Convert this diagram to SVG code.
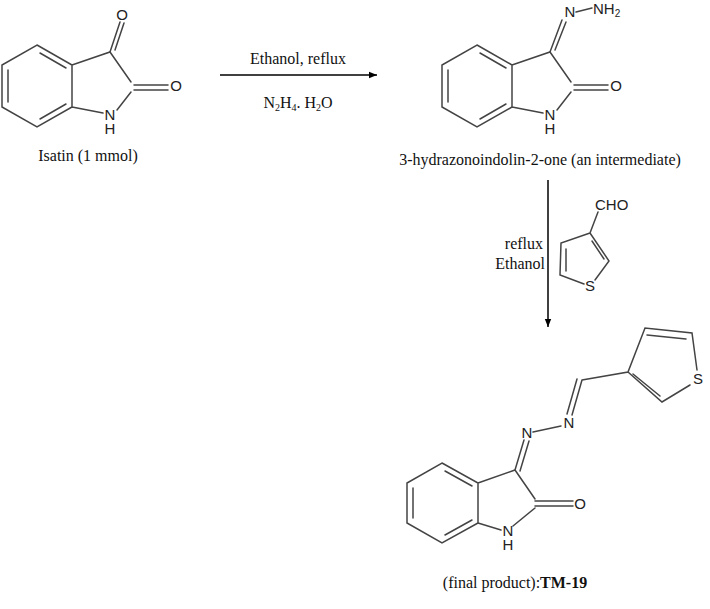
<svg xmlns="http://www.w3.org/2000/svg" width="710" height="609" viewBox="0 0 710 609">
<defs>
<style>
.b{fill:none;stroke:#444;stroke-width:1.5;stroke-linecap:round}
.a{font-family:"Liberation Sans",Arial,sans-serif;font-size:15px;fill:#222}
.t{font-family:"Liberation Serif","Times New Roman",serif;font-size:16px;fill:#111}
.ar{stroke:#000;stroke-width:1.5;fill:none}
</style>
<marker id="m" viewBox="0 0 10 10" refX="10" refY="5" markerWidth="8" markerHeight="8" orient="auto" markerUnits="userSpaceOnUse"><path d="M0,1 L10,5 L0,9 z" fill="#000"/></marker>
</defs>
<rect width="710" height="609" fill="#fff"/>
<g id="isatin">
<path class="b" d="M37,45 L72,65 L72,107 L37,127 L2,107 L2,65 Z M8,70 L8,102 M40,53 L66,68 M40,119 L66,104 M72,65 L110,52 L131,82 M72,107 L103,113 M117,110 L131,92"/>
<path class="b" d="M110,52 L120,22 M115,50 L124,23 M134,85 L168,85 M134,90 L168,90"/>
<text class="a" x="122" y="20" text-anchor="middle">O</text>
<text class="a" x="176" y="91" text-anchor="middle">O</text>
<text class="a" x="110" y="120" text-anchor="middle" font-size="13">N</text>
<text class="a" x="110" y="134" text-anchor="middle" font-size="13">H</text>
<text class="t" x="88" y="161" text-anchor="middle">Isatin (1 mmol)</text>
</g>
<g id="intermediate" transform="translate(440,0)">
<path class="b" d="M37,45 L72,65 L72,107 L37,127 L2,107 L2,65 Z M8,70 L8,102 M40,53 L66,68 M40,119 L66,104 M72,65 L110,52 L131,82 M72,107 L103,113 M117,110 L131,92"/>
<path class="b" d="M110,52 L122,20 M115,50 L126,22 M136,12 L152,8"/>
<path class="b" d="M134,85 L168,85 M134,90 L168,90"/>
<text class="a" x="130" y="17" text-anchor="middle">N</text>
<text class="a" x="153" y="14">NH<tspan font-size="10" dy="3">2</tspan></text>
<text class="a" x="176" y="91" text-anchor="middle">O</text>
<text class="a" x="110" y="120" text-anchor="middle" font-size="13">N</text>
<text class="a" x="110" y="134" text-anchor="middle" font-size="13">H</text>
</g>
<text class="t" x="540" y="165" text-anchor="middle">3-hydrazonoindolin-2-one  (an intermediate)</text>
<g id="aldehyde">
<path class="b" d="M590,233 L609,261 L595,280 M584,284 L560,275 L561,243 L590,233 M566,249 L566,271 M592,241 L604,259 M590,233 L598,212"/>
<text class="a" x="590" y="291" font-size="13" text-anchor="middle">S</text>
<text class="a" x="595" y="210" font-size="13">CHO</text>
</g>
<g id="product">
<path class="b" d="M442,463 L478,483 L478,523 L442,543 L407,523 L407,483 Z M413,488 L413,518 M445,471 L472,486 M445,535 L472,520 M478,483 L515,470 L535,499 M478,523 L501,530 M513,526 L535,508"/>
<path class="b" d="M535,501 L573,501 M535,506 L573,506 M515,470 L524,440 M520,471 L529,441 M533,432 L561,426 M572,415 L582,380 M567,414 L577,379 M582,380 L628,372 L645,328 L692,333 L697,370 M690,385 L662,402 L628,372 M647,335 L686,339 M633,374 L660,396"/>
<text class="a" x="527" y="438" text-anchor="middle">N</text>
<text class="a" x="569" y="428" text-anchor="middle">N</text>
<text class="a" x="698" y="384" font-size="13" text-anchor="middle">S</text>
<text class="a" x="580" y="509" text-anchor="middle">O</text>
<text class="a" x="508" y="536" text-anchor="middle" font-size="13">N</text>
<text class="a" x="508" y="550" text-anchor="middle" font-size="13">H</text>
<text class="t" x="515" y="588" text-anchor="middle">(final product):<tspan font-weight="bold">TM-19</tspan></text>
</g>
<g id="connectors">
<line class="ar" x1="220" y1="75" x2="377" y2="75" marker-end="url(#m)"/>
<line class="ar" x1="548" y1="180" x2="548" y2="327" marker-end="url(#m)"/>
</g>
<text class="t" x="298" y="64" text-anchor="middle" font-size="15">Ethanol, reflux</text>
<text class="t" x="298" y="108" text-anchor="middle" font-size="15">N<tspan font-size="10" dy="3">2</tspan><tspan dy="-3">H</tspan><tspan font-size="10" dy="3">4</tspan><tspan dy="-3">. H</tspan><tspan font-size="10" dy="3">2</tspan><tspan dy="-3">O</tspan></text>
<text class="t" x="543" y="249" text-anchor="end" font-size="15">reflux</text>
<text class="t" x="545" y="269" text-anchor="end" font-size="15">Ethanol</text>
</svg>
